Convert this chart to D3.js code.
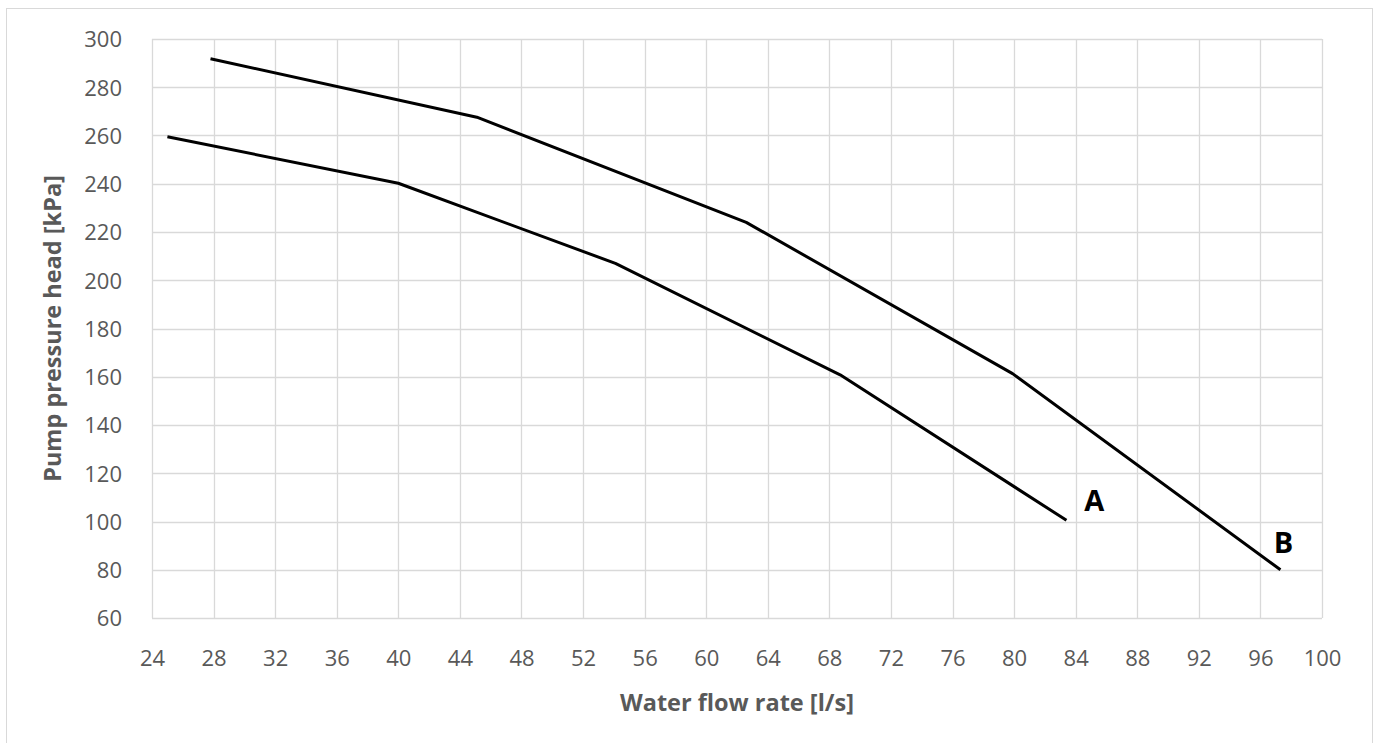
<!DOCTYPE html>
<html><head><meta charset="utf-8">
<script src="https://cdn.jsdelivr.net/npm/d3@7"></script>
<style>body{margin:0;background:#fff;}svg{display:block;}</style>
</head><body>
<script>
const xTicks = [24,28,32,36,40,44,48,52,56,60,64,68,72,76,80,84,88,92,96,100];
const yTicks = [60,80,100,120,140,160,180,200,220,240,260,280,300];
const curveA_x = [25, 40, 54.1, 68.7, 83.4];
const curveA_y = [259.5, 240.2, 207, 160.8, 100.5];
const curveB_x = [27.8, 45.1, 62.6, 79.9, 97.3];
const curveB_y = [291.8, 267.6, 224, 161.3, 80];
const seriesLabels = ["A", "B"];
const labelPos = [[85.2, 104.5], [97.5, 87.1]];

const W = 1377, H = 743;
const svg = d3.select("body").append("svg").attr("width", W).attr("height", H);
const font = "'Open Sans', 'Liberation Sans', sans-serif";

svg.append("rect").attr("x",6.5).attr("y",8.5).attr("width",1366).attr("height",740)
  .attr("fill","none").attr("stroke","#d9d9d9").attr("stroke-width",1);

const x = d3.scaleLinear().domain([24,100]).range([152,1322]);
const y = d3.scaleLinear().domain([60,300]).range([618,39]);

const g = svg.append("g");
g.selectAll(".vg").data(xTicks).join("line")
  .attr("x1",d=>Math.round(x(d))+0.5).attr("x2",d=>Math.round(x(d))+0.5)
  .attr("y1",y(300)).attr("y2",y(60)).attr("stroke","#d9d9d9").attr("stroke-width",1.3);
g.selectAll(".hg").data(yTicks).join("line")
  .attr("y1",d=>Math.round(y(d))+0.5).attr("y2",d=>Math.round(y(d))+0.5)
  .attr("x1",x(24)).attr("x2",x(100)).attr("stroke","#d9d9d9").attr("stroke-width",1.3);

const xAxis = d3.axisBottom(x).tickValues(xTicks).tickSize(0).tickPadding(0);
const ax = svg.append("g").attr("transform",`translate(0,${y(60)})`).call(xAxis);
ax.select(".domain").remove();
ax.selectAll("text").attr("font-family",font).attr("font-size",22).attr("fill","#595959")
  .attr("y",48).attr("dy",0);

const yAxis = d3.axisLeft(y).tickValues(yTicks).tickSize(0).tickPadding(30);
const ay = svg.append("g").attr("transform",`translate(${x(24)},0)`).call(yAxis);
ay.select(".domain").remove();
ay.selectAll("text").attr("font-family",font).attr("font-size",22).attr("fill","#595959").attr("dy","0.36em");

const line = d3.line().x(d=>x(d[0])).y(d=>y(d[1]));
const dataA = curveA_x.map((v,i)=>[v,curveA_y[i]]);
const dataB = curveB_x.map((v,i)=>[v,curveB_y[i]]);
[dataA,dataB].forEach(d=>{
  svg.append("path").datum(d).attr("d",line).attr("fill","none")
    .attr("stroke","#000").attr("stroke-width",3).attr("stroke-linejoin","round");
});

seriesLabels.forEach((s,i)=>{
  svg.append("text").attr("x",x(labelPos[i][0])).attr("y",y(labelPos[i][1])).text(s)
    .attr("font-family",font).attr("font-weight","bold").attr("font-size",29)
    .attr("text-anchor","middle").attr("fill","#000");
});

svg.append("text").attr("x",(x(24)+x(100))/2).attr("y",711).text("Water flow rate [l/s]")
  .attr("font-family",font).attr("font-weight","bold").attr("font-size",23.5).attr("text-anchor","middle").attr("fill","#595959");
svg.append("text").attr("transform",`translate(61,${(y(60)+y(300))/2}) rotate(-90)`).text("Pump pressure head [kPa]")
  .attr("font-family",font).attr("font-weight","bold").attr("font-size",23.5).attr("text-anchor","middle").attr("fill","#595959");
</script>
</body></html>
